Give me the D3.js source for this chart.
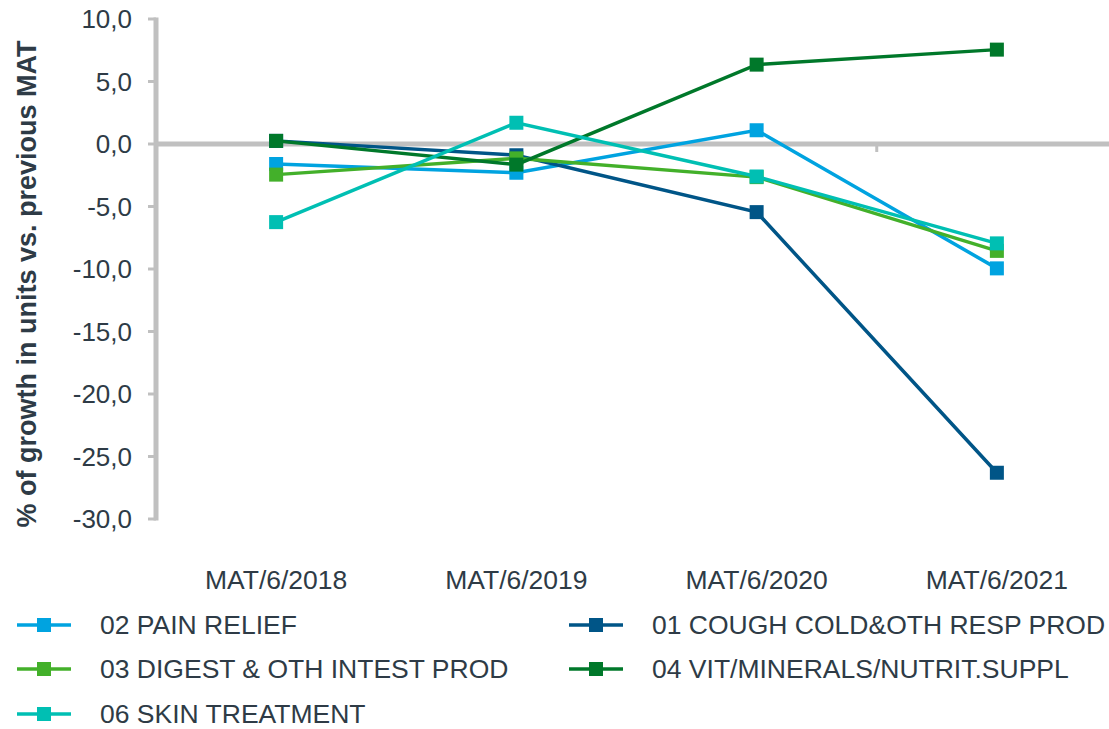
<!DOCTYPE html>
<html>
<head>
<meta charset="utf-8">
<script src="https://cdn.jsdelivr.net/npm/d3@7"></script>
<style>
  html, body { margin: 0; padding: 0; background: #fff; }
  svg text { font-family: "Liberation Sans", Arial, sans-serif; fill: #2e3b46; }
</style>
</head>
<body>
<div id="chart"></div>
<script>
const periods = ["MAT/6/2018", "MAT/6/2019", "MAT/6/2020", "MAT/6/2021"];

const seriesNames = [
  "02 PAIN RELIEF",
  "01 COUGH COLD&OTH RESP PROD",
  "03 DIGEST & OTH INTEST PROD",
  "04 VIT/MINERALS/NUTRIT.SUPPL",
  "06 SKIN TREATMENT"
];
const seriesColors = ["#00a3e0", "#005587", "#43b02a", "#00782a", "#00bfb3"];

const painRelief = [-1.6, -2.3, 1.1, -9.95];
const coughCold = [0.25, -0.9, -5.45, -26.3];
const digest = [-2.45, -1.15, -2.65, -8.55];
const vitamins = [0.25, -1.65, 6.35, 7.55];
const skin = [-6.25, 1.7, -2.6, -7.95];

const yTicks = [10, 5, 0, -5, -10, -15, -20, -25, -30];

const allSeries = [painRelief, coughCold, digest, vitamins, skin].map((vals, i) => ({
  name: seriesNames[i],
  color: seriesColors[i],
  values: vals
}));

const W = 1109, H = 729;
const svg = d3.select("#chart").append("svg")
  .attr("width", W).attr("height", H);

const x = d3.scaleBand().domain(periods).range([156, 1117]);
const y = d3.scaleLinear().domain([-30, 10]).range([519, 19]);
const fmt = v => d3.format(".1f")(v).replace(".", ",").replace("−", "-");

// y axis
const yAxis = svg.append("g");
yAxis.append("line")
  .attr("x1", 156).attr("x2", 156)
  .attr("y1", y(10) - 1.5).attr("y2", y(-30) + 1.5)
  .attr("stroke", "#c0c0c0").attr("stroke-width", 5);
yAxis.selectAll("line.tick").data(yTicks).enter().append("line")
  .attr("class", "tick")
  .attr("x1", 148).attr("x2", 156)
  .attr("y1", d => y(d)).attr("y2", d => y(d))
  .attr("stroke", "#c0c0c0").attr("stroke-width", 3);
yAxis.selectAll("text").data(yTicks).enter().append("text")
  .attr("x", 132).attr("y", d => y(d) + 9)
  .attr("text-anchor", "end")
  .style("font-size", "26px")
  .text(fmt);

// zero line
svg.append("line")
  .attr("x1", 156).attr("x2", W)
  .attr("y1", y(0)).attr("y2", y(0))
  .attr("stroke", "#c0c0c0").attr("stroke-width", 5);
svg.append("line")
  .attr("x1", x(periods[3])).attr("x2", x(periods[3]))
  .attr("y1", y(0)).attr("y2", y(0) + 8)
  .attr("stroke", "#c0c0c0").attr("stroke-width", 3);

// category labels
svg.selectAll("text.cat").data(periods).enter().append("text")
  .attr("class", "cat")
  .attr("x", d => x(d) + x.bandwidth() / 2)
  .attr("y", 589)
  .attr("text-anchor", "middle")
  .style("font-size", "26.5px")
  .text(d => d);

// y title
svg.append("text")
  .attr("transform", "translate(36,284) rotate(-90)")
  .attr("text-anchor", "middle")
  .style("font-size", "27px")
  .style("font-weight", "bold")
  .text("% of growth in units vs. previous MAT");

// lines
const cx = d => x(d) + x.bandwidth() / 2;
const line = d3.line().x((d, i) => cx(periods[i])).y(d => y(d));
const sq = 14;

allSeries.forEach(s => {
  const g = svg.append("g");
  g.append("path")
    .datum(s.values)
    .attr("fill", "none")
    .attr("stroke", s.color)
    .attr("stroke-width", 3.5)
    .attr("d", line);
  g.selectAll("rect").data(s.values).enter().append("rect")
    .attr("x", (d, i) => cx(periods[i]) - sq / 2)
    .attr("y", d => y(d) - sq / 2)
    .attr("width", sq).attr("height", sq)
    .attr("fill", s.color);
});

// legend
const legPos = [
  [17, 625], [569, 625],
  [17, 669], [569, 669],
  [17, 714]
];
allSeries.forEach((s, i) => {
  const [lx, ly] = legPos[i];
  const g = svg.append("g");
  g.append("line")
    .attr("x1", lx).attr("x2", lx + 54)
    .attr("y1", ly).attr("y2", ly)
    .attr("stroke", s.color).attr("stroke-width", 3.5);
  g.append("rect")
    .attr("x", lx + 27 - 7).attr("y", ly - 7)
    .attr("width", 14).attr("height", 14)
    .attr("fill", s.color);
  g.append("text")
    .attr("x", lx + 83).attr("y", ly + 9)
    .style("font-size", "26.5px")
    .text(s.name);
});
</script>
</body>
</html>
